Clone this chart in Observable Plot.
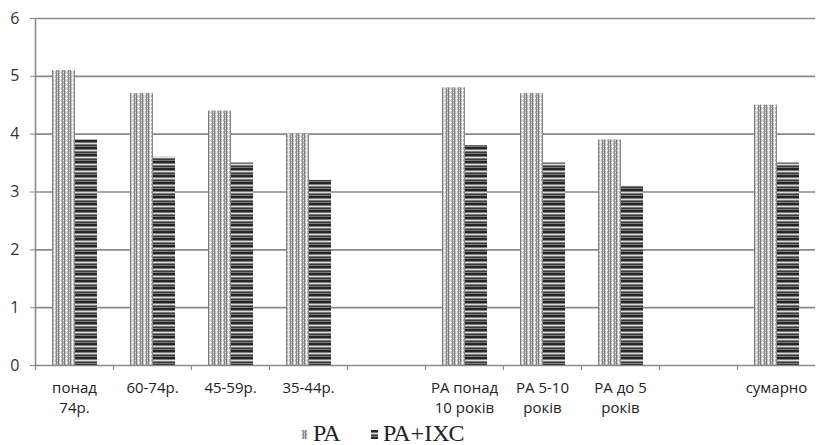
<!DOCTYPE html>
<html>
<head>
<meta charset="utf-8">
<script src="https://cdn.jsdelivr.net/npm/d3@7"></script>
<script src="https://cdn.jsdelivr.net/npm/@observablehq/plot@0.6"></script>
<style>
  html, body { margin: 0; padding: 0; background: #fff; overflow: hidden; }
  #chart { width: 817px; height: 445px; position: relative; }
  .legend { position: absolute; left: 0; top: 420px; width: 817px; height: 25px;
    font-family: "Liberation Serif", "DejaVu Serif", serif; font-size: 24px; line-height: 26px; color: #222; }
  .legend .item { position: absolute; top: 0; white-space: nowrap; }
  .legend svg { vertical-align: 2px; margin-right: 5px; }
</style>
</head>
<body>
<div id="chart"></div>
<script>
const categories = ["понад\n74р.", "60-74р.", "45-59р.", "35-44р.", "", "РА понад\n10 років", "РА 5-10\nроків", "РА до 5\nроків", " ", "сумарно"];
const seriesNames = ["РА", "РА+ІХС"];
const paValues  = [5.1, 4.7, 4.4, 4.0, null, 4.8, 4.7, 3.9, null, 4.5];
const ixcValues = [3.9, 3.6, 3.5, 3.2, null, 3.8, 3.5, 3.1, null, 3.5];
const yTicks = [0, 1, 2, 3, 4, 5, 6];

const pa = categories.map((c, i) => ({category: c, value: paValues[i]})).filter(d => d.value != null);
const ixc = categories.map((c, i) => ({category: c, value: ixcValues[i]})).filter(d => d.value != null);

const plot = Plot.plot({
  width: 817,
  height: 420,
  marginLeft: 35,
  marginRight: 2,
  marginTop: 18,
  marginBottom: 55,
  style: {fontFamily: "'Open Sans', 'Noto Sans', sans-serif", background: "#fff"},
  x: {domain: categories, padding: 0, axis: null},
  y: {domain: [0, 6], axis: null},
  marks: [
    Plot.ruleY(yTicks.filter(d => d > 0), {stroke: "#8a8a8a", strokeWidth: 1.6}),
    Plot.barY(pa, {x: "category", y: "value", insetLeft: 17, insetRight: 38, fill: "url(#patPA)"}),
    Plot.barY(ixc, {x: "category", y: "value", insetLeft: 40, insetRight: 16, fill: "url(#patIXC)"}),
    Plot.ruleX([0], {x: () => categories[0], dx: -39, y1: 0, y2: 6, stroke: "#8a8a8a", strokeWidth: 1.6}),
    Plot.ruleY([0], {stroke: "#8a8a8a", strokeWidth: 1.6}),
    Plot.axisY({ticks: yTicks, label: null, tickSize: 5, tickFormat: d => d, fontSize: 16, tickPadding: 11, stroke: "#8a8a8a", color: "#333"}),
    Plot.axisX({text: null, label: null, tickSize: 5, dx: -39, stroke: "#8a8a8a", strokeWidth: 1.2}),
    Plot.axisX({label: null, tickSize: 0, tickPadding: 13, fontSize: 15, lineHeight: 1.33, color: "#222"})
  ]
});

// patterns
const defs = d3.select(plot).insert("defs", ":first-child");
const p1 = defs.append("pattern").attr("id", "patPA").attr("patternUnits", "userSpaceOnUse").attr("width", 6).attr("height", 4);
p1.append("rect").attr("width", 6).attr("height", 4).attr("fill", "#b4b4b4");
p1.append("rect").attr("x", 0).attr("width", 1).attr("height", 4).attr("fill", "#f0f0f0");
p1.append("rect").attr("x", 2).attr("width", 1).attr("height", 4).attr("fill", "#8a8a8a");
p1.append("rect").attr("x", 4).attr("width", 1).attr("height", 4).attr("fill", "#7e7e7e");
p1.append("rect").attr("x", 1).attr("y", 2).attr("width", 1).attr("height", 1).attr("fill", "#eeeeee");
p1.append("rect").attr("x", 3).attr("y", 0).attr("width", 1).attr("height", 1).attr("fill", "#e4e4e4");
p1.append("rect").attr("x", 5).attr("y", 2).attr("width", 1).attr("height", 1).attr("fill", "#e4e4e4");
const p2 = defs.append("pattern").attr("id", "patIXC").attr("patternUnits", "userSpaceOnUse").attr("width", 4).attr("height", 7);
p2.append("rect").attr("width", 4).attr("height", 7).attr("fill", "#7a7a7a");
p2.append("rect").attr("y", 0).attr("width", 4).attr("height", 2).attr("fill", "#262626");
p2.append("rect").attr("y", 3).attr("width", 4).attr("height", 1).attr("fill", "#dcdcdc");
p2.append("rect").attr("y", 5).attr("width", 4).attr("height", 1).attr("fill", "#3c3c3c");

const chart = document.getElementById("chart");
chart.appendChild(plot);

// legend
const legend = document.createElement("div");
legend.className = "legend";
const lefts = [301, 371];
seriesNames.forEach((name, i) => {
  const item = document.createElement("span");
  item.className = "item";
  item.style.left = lefts[i] + "px";
  const pat = i === 0 ? "patPA" : "patIXC";
  item.innerHTML = `<svg width="7" height="9"><rect width="7" height="9" fill="url(#${pat})"/></svg>${name}`;
  legend.appendChild(item);
});
chart.appendChild(legend);
</script>
</body>
</html>
